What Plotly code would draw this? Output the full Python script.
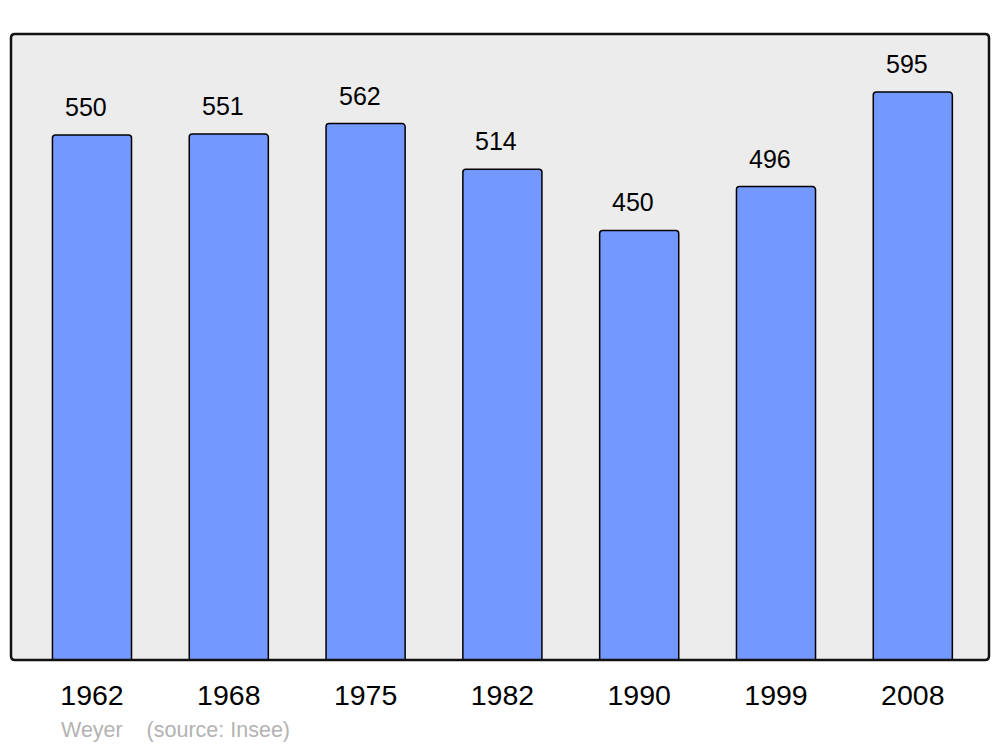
import plotly.graph_objects as go

years = ["1962", "1968", "1975", "1982", "1990", "1999", "2008"]
population = [550, 551, 562, 514, 450, 496, 595]
footnote = "Weyer    (source: Insee)"

bar_color = "#7399ff"
bg_color = "#ececec"
FONT = "Liberation Sans, Arial, sans-serif"

x_idx = list(range(len(years)))

fig = go.Figure()
fig.add_trace(go.Bar(
    x=x_idx, y=population, width=0.578,
    marker=dict(color=bar_color, line=dict(color="black", width=1.5), cornerradius=3),
    hoverinfo="skip",
))

for i, v in zip(x_idx, population):
    fig.add_annotation(x=i, y=v, text=str(v), showarrow=False, xref="x", yref="y",
                       yanchor="bottom", yshift=12, xshift=-6,
                       font=dict(family=FONT, size=25, color="black"))

W, H = 978.0, 626.0
rx, ry = 4 / W, 4 / H
path = (f"M {rx},0 L {1-rx},0 Q 1,0 1,{ry} L 1,{1-ry} Q 1,1 {1-rx},1 "
        f"L {rx},1 Q 0,1 0,{1-ry} L 0,{ry} Q 0,0 {rx},0 Z")
fig.add_shape(type="path", path=path, xref="paper", yref="paper",
              fillcolor=bg_color, line=dict(width=0), layer="below")
fig.add_shape(type="path", path=path, xref="paper", yref="paper",
              fillcolor="rgba(0,0,0,0)", line=dict(color="#111111", width=2.5), layer="above")

fig.add_annotation(xref="paper", yref="paper", x=(59 - 11) / W, y=-(730 - 660) / H,
                   text=footnote, showarrow=False, xanchor="left", yanchor="middle",
                   font=dict(family=FONT, size=21.5, color="#b3b3b3"))

fig.update_layout(
    width=992, height=739,
    margin=dict(l=3, r=11, t=26, b=87),
    paper_bgcolor="white", plot_bgcolor="rgba(0,0,0,0)",
    showlegend=False,
    xaxis=dict(range=[-0.592, 6.557], tickmode="array", tickvals=x_idx, ticktext=years,
               showgrid=False, zeroline=False, showline=False, ticks="",
               tickfont=dict(family=FONT, size=28.5, color="black"),
               ticklabelstandoff=15),
    yaxis=dict(range=[0, 655.8], showgrid=False, zeroline=False, showline=False,
               showticklabels=False, ticks=""),
)

fig.write_html("out.html")
